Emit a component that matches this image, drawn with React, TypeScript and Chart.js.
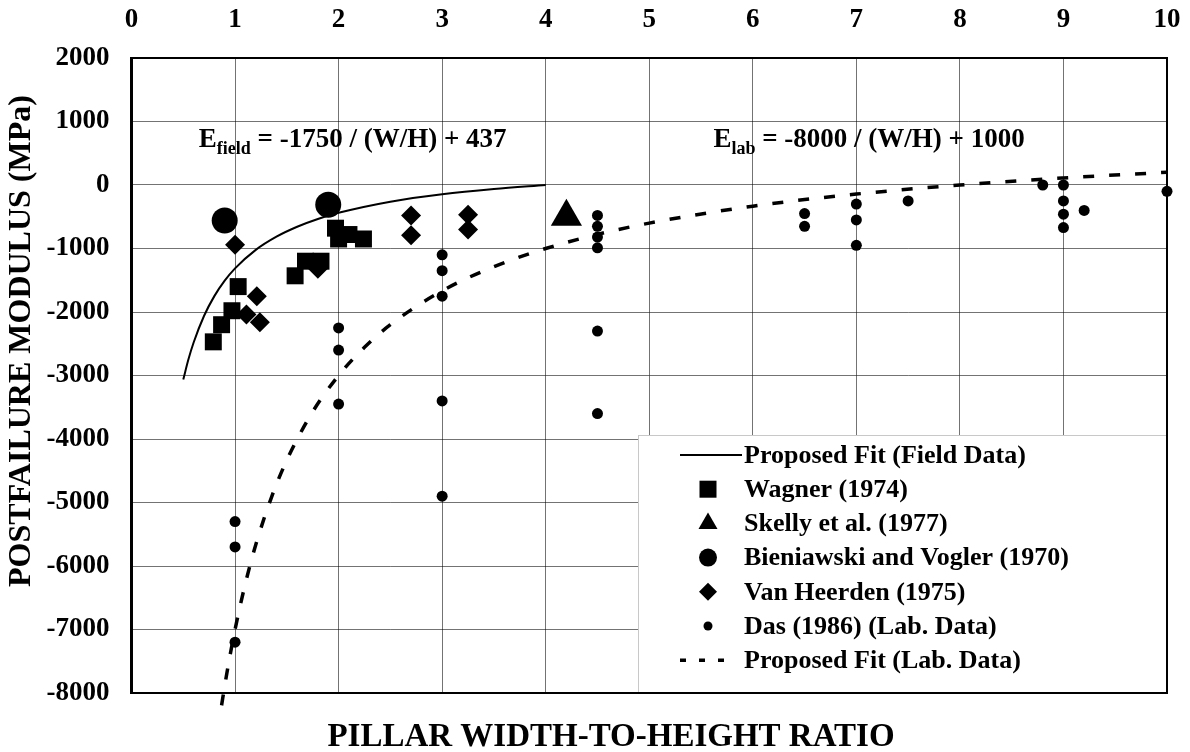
import React, { useEffect, useRef } from 'react';
import { Chart, registerables } from 'chart.js';

Chart.register(...registerables);

// ---- tick labels ----
const xTickValues = [0, 1, 2, 3, 4, 5, 6, 7, 8, 9, 10];
const yTickValues = [2000, 1000, 0, -1000, -2000, -3000, -4000, -5000, -6000, -7000, -8000];

// ---- series labels ----
const seriesLabels = [
  'Proposed Fit (Field Data)',
  'Wagner (1974)',
  'Skelly et al. (1977)',
  'Bieniawski and Vogler (1970)',
  'Van Heerden (1975)',
  'Das (1986) (Lab. Data)',
  'Proposed Fit (Lab. Data)',
];

// ---- field fit curve (E = -1750/(W/H) + 437) ----
const fieldFitX = [0.5, 0.55, 0.6, 0.7, 0.8, 0.9, 1.0, 1.2, 1.4, 1.6, 1.8, 2.0, 2.5, 3.0, 3.5, 4.0];
const fieldFitY = [-3063, -2745, -2480, -2063, -1750, -1507, -1313, -1021, -813, -657, -535, -438, -263, -146, -63, 0];

// ---- Wagner (1974) ----
const wagnerX = [0.79, 0.87, 0.97, 1.03, 1.58, 1.68, 1.83, 1.97, 2.0, 2.1, 2.24];
const wagnerY = [-2470, -2200, -1980, -1600, -1430, -1200, -1200, -680, -850, -780, -850];

// ---- Skelly et al. (1977) ----
const skellyX = [4.2];
const skellyY = [-500];

// ---- Bieniawski and Vogler (1970) ----
const bieniawskiX = [0.9, 1.9];
const bieniawskiY = [-560, -310];

// ---- Van Heerden (1975) ----
const vanHeerdenX = [1.0, 1.21, 1.11, 1.24, 1.8, 2.7, 2.7, 3.25, 3.25];
const vanHeerdenY = [-940, -1750, -2040, -2160, -1320, -480, -790, -470, -700];

// ---- Das (1986) lab data ----
const dasX = [1, 1, 1, 2, 2, 2, 3, 3, 3, 3, 3, 4.5, 4.5, 4.5, 4.5, 4.5, 4.5, 6.5, 6.5, 7, 7, 7, 7.5, 8.8, 9, 9, 9, 9, 9.2, 10];
const dasY = [-5300, -5700, -7200, -2250, -2600, -3450, -1100, -1350, -1750, -3400, -4900, -480, -650, -820, -990, -2300, -3600, -450, -650, -300, -550, -950, -250, 0, 0, -250, -460, -670, -400, -100];

// ---- lab fit curve (E = -8000/(W/H) + 1000) ----
const labFitX = [0.87, 0.9, 0.95, 1, 1.1, 1.2, 1.35, 1.5, 1.75, 2, 2.25, 2.5, 3, 3.5, 4, 4.5, 5, 6, 7, 8, 9, 10];
const labFitY = [-8195, -7889, -7421, -7000, -6273, -5667, -4926, -4333, -3571, -3000, -2556, -2200, -1667, -1286, -1000, -778, -600, -333, -143, 0, 111, 200];

const zip = (xs: number[], ys: number[]) => xs.map((x, i) => ({ x, y: ys[i] }));

const SERIF = '"Liberation Serif", "Times New Roman", serif';

const legendSymbols = ['line', 'rect', 'triangle', 'circle', 'rectRot', 'dot', 'dash'];

const decorPlugin = {
  id: 'decor',
  beforeDatasetsDraw(chart: any) {
    const { ctx, chartArea } = chart;
    const { left, right, top, bottom } = chartArea;
    ctx.save();
    // legend box background
    const bx = right - 529;
    const by = bottom - 258;
    ctx.fillStyle = '#ffffff';
    ctx.fillRect(bx, by, right - bx, bottom - by);
    ctx.strokeStyle = '#c8c8c8';
    ctx.lineWidth = 1;
    ctx.strokeRect(bx + 0.5, by + 0.5, right - bx - 1, bottom - by - 1);

    // plot border
    ctx.strokeStyle = '#000';
    ctx.lineWidth = 2;
    ctx.strokeRect(left, top, right - left, bottom - top);
    ctx.lineWidth = 3;
    ctx.beginPath();
    ctx.moveTo(left, top - 1);
    ctx.lineTo(left, bottom + 1);
    ctx.stroke();

    // legend entries
    const symX = bx + 70;
    const textX = bx + 106;
    const rowY0 = by + 20;
    const step = 34.2;
    ctx.fillStyle = '#000';
    ctx.strokeStyle = '#000';
    seriesLabels.forEach((label, i) => {
      const cy = rowY0 + i * step;
      const s = legendSymbols[i];
      ctx.setLineDash([]);
      if (s === 'line') {
        ctx.lineWidth = 2;
        ctx.beginPath();
        ctx.moveTo(bx + 42, cy);
        ctx.lineTo(bx + 104, cy);
        ctx.stroke();
      } else if (s === 'dash') {
        ctx.lineWidth = 3.5;
        ctx.setLineDash([6, 13]);
        ctx.beginPath();
        ctx.moveTo(bx + 42, cy);
        ctx.lineTo(bx + 94, cy);
        ctx.stroke();
        ctx.setLineDash([]);
      } else if (s === 'rect') {
        ctx.fillRect(symX - 8.5, cy - 8.5, 17, 17);
      } else if (s === 'triangle') {
        const r = 11;
        ctx.beginPath();
        ctx.moveTo(symX, cy - r);
        ctx.lineTo(symX + r * 0.866, cy + r / 2);
        ctx.lineTo(symX - r * 0.866, cy + r / 2);
        ctx.closePath();
        ctx.fill();
      } else if (s === 'circle') {
        ctx.beginPath();
        ctx.arc(symX, cy, 9, 0, Math.PI * 2);
        ctx.fill();
      } else if (s === 'rectRot') {
        const r = 9;
        ctx.beginPath();
        ctx.moveTo(symX - r, cy);
        ctx.lineTo(symX, cy - r);
        ctx.lineTo(symX + r, cy);
        ctx.lineTo(symX, cy + r);
        ctx.closePath();
        ctx.fill();
      } else if (s === 'dot') {
        ctx.beginPath();
        ctx.arc(symX, cy, 4.5, 0, Math.PI * 2);
        ctx.fill();
      }
      ctx.font = `bold 26px ${SERIF}`;
      ctx.textAlign = 'left';
      ctx.textBaseline = 'middle';
      ctx.fillText(label, textX, cy + 1);
    });
    ctx.restore();
  },
  afterDraw(chart: any) {
    const { ctx, scales } = chart;
    const xs = scales.x;
    const ys = scales.y;
    ctx.save();
    ctx.fillStyle = '#000';
    ctx.textBaseline = 'alphabetic';
    ctx.textAlign = 'left';

    const drawEq = (xVal: number, yVal: number, sub: string, rest: string) => {
      let px = xs.getPixelForValue(xVal);
      const py = ys.getPixelForValue(yVal);
      ctx.font = `bold 27px ${SERIF}`;
      ctx.fillText('E', px, py);
      px += ctx.measureText('E').width;
      ctx.font = `bold 18px ${SERIF}`;
      ctx.fillText(sub, px, py + 7);
      px += ctx.measureText(sub).width;
      ctx.font = `bold 27px ${SERIF}`;
      ctx.fillText(rest, px, py);
    };
    drawEq(0.65, 600, 'field', ' = -1750 / (W/H) + 437');
    drawEq(5.62, 600, 'lab', ' = -8000 / (W/H) + 1000');

    // axis titles
    ctx.font = `bold 33px ${SERIF}`;
    ctx.textAlign = 'center';
    ctx.textBaseline = 'middle';
    ctx.fillText('PILLAR WIDTH-TO-HEIGHT RATIO', 611, 737);
    ctx.font = `bold 32px ${SERIF}`;
    ctx.translate(22, 341);
    ctx.rotate(-Math.PI / 2);
    ctx.fillText('POSTFAILURE MODULUS (MPa)', 0, 0);
    ctx.restore();
  },
};

export default function App() {
  const canvasRef = useRef<HTMLCanvasElement | null>(null);

  useEffect(() => {
    document.body.style.margin = '0';
    const canvas = canvasRef.current;
    if (!canvas) return;

    const pointDs = (label: string, xs: number[], ys: number[], style: string, radius: number) => ({
      label,
      data: zip(xs, ys),
      showLine: false,
      pointStyle: style,
      pointRadius: radius,
      pointBackgroundColor: '#000',
      pointBorderColor: '#000',
      pointBorderWidth: 0,
      clip: false as const,
    });

    const chart = new Chart(canvas, {
      type: 'scatter',
      data: {
        datasets: [
          {
            label: seriesLabels[0],
            data: zip(fieldFitX, fieldFitY),
            showLine: true,
            borderColor: '#000',
            borderWidth: 2,
            pointRadius: 0,
            cubicInterpolationMode: 'monotone',
            clip: false,
          } as any,
          pointDs(seriesLabels[1], wagnerX, wagnerY, 'rect', 12),
          pointDs(seriesLabels[2], skellyX, skellyY, 'triangle', 18),
          pointDs(seriesLabels[3], bieniawskiX, bieniawskiY, 'circle', 13),
          pointDs(seriesLabels[4], vanHeerdenX, vanHeerdenY, 'rectRot', 10),
          pointDs(seriesLabels[5], dasX, dasY, 'circle', 5.5),
          {
            label: seriesLabels[6],
            data: zip(labFitX, labFitY),
            showLine: true,
            borderColor: '#000',
            borderWidth: 3.5,
            borderDash: [11, 15],
            pointRadius: 0,
            cubicInterpolationMode: 'monotone',
            clip: false,
          } as any,
        ],
      },
      options: {
        animation: false,
        responsive: false,
        events: [],
        layout: { padding: { left: 0, right: 23, top: 0, bottom: 59 } },
        plugins: {
          legend: { display: false },
          tooltip: { enabled: false },
        },
        scales: {
          x: {
            type: 'linear',
            position: 'top',
            min: 0,
            max: 10,
            afterFit: (s: any) => {
              s.height = 58;
              s.paddingLeft = 0;
              s.paddingRight = 0;
            },
            afterBuildTicks: (s: any) => {
              s.ticks = xTickValues.map((v) => ({ value: v }));
            },
            ticks: {
              padding: 22,
              color: '#000',
              font: { family: SERIF, size: 27, weight: 'bold' },
              maxRotation: 0,
              autoSkip: false,
              callback: (v: any) => String(v),
            },
            grid: { color: 'rgba(0,0,0,0.55)', lineWidth: 1, drawTicks: false },
            border: { display: false },
          },
          y: {
            type: 'linear',
            position: 'left',
            min: -8000,
            max: 2000,
            afterFit: (s: any) => {
              s.width = 131.5;
              s.paddingTop = 0;
              s.paddingBottom = 0;
            },
            afterBuildTicks: (s: any) => {
              s.ticks = yTickValues.map((v) => ({ value: v }));
            },
            ticks: {
              padding: 22,
              color: '#000',
              font: { family: SERIF, size: 27, weight: 'bold' },
              autoSkip: false,
              callback: (v: any) => String(v),
            },
            grid: { color: 'rgba(0,0,0,0.55)', lineWidth: 1, drawTicks: false },
            border: { display: false },
          },
        },
      } as any,
      plugins: [decorPlugin],
    });

    return () => {
      chart.destroy();
    };
  }, []);

  return (
    <div style={{ width: 1190, height: 752 }}>
      <canvas ref={canvasRef} width={1190} height={752} style={{ display: 'block' }} />
    </div>
  );
}
